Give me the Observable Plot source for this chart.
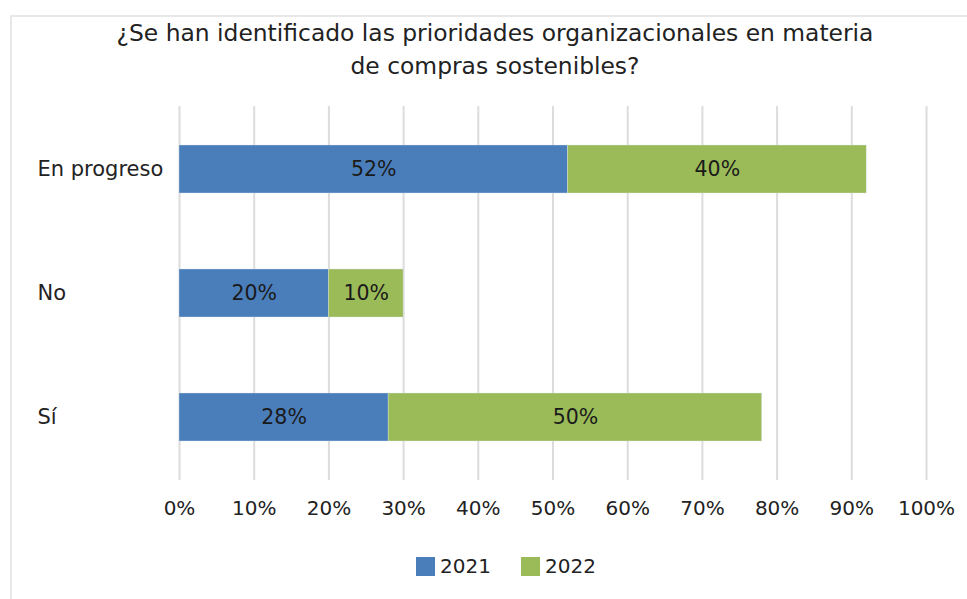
<!DOCTYPE html>
<html>
<head>
<meta charset="utf-8">
<script src="https://cdn.jsdelivr.net/npm/d3@7"></script>
<script src="https://cdn.jsdelivr.net/npm/@observablehq/plot@0.6"></script>
<style>
  html, body { margin: 0; padding: 0; background: #fff; }
  body { width: 967px; height: 599px; overflow: hidden; position: relative; font-family: "DejaVu Sans", sans-serif; color: #222; }
  #frame { position: absolute; left: 10px; top: 15px; width: 1000px; height: 640px; border-left: 2px solid #e8e8e8; border-top: 2px solid #e8e8e8; }
  #title { position: absolute; left: 0; top: 17px; width: 990px; text-align: center; font-size: 23.4px; line-height: 33px; color: #222; }
  #chart { position: absolute; left: 0; top: 90px; }
  #legend { position: absolute; left: 0; top: 555px; width: 967px; height: 22px; }
  .item { position: absolute; top: 0; display: flex; align-items: center; font-size: 20px; height: 22px; }
  .sw { width: 19px; height: 19px; margin-right: 5px; }
</style>
</head>
<body>
<div id="frame"></div>
<div id="title">¿Se han identificado las prioridades organizacionales en materia<br>de compras sostenibles?</div>
<div id="chart"></div>
<div id="legend"></div>
<script>
const categories = ["En progreso", "No", "Sí"];
const series = ["2021", "2022"];
const values2021 = [52, 20, 28];
const values2022 = [40, 10, 50];
const xTicks = [0, 10, 20, 30, 40, 50, 60, 70, 80, 90, 100];
const colors = ["#4a7ebb", "#9bbb59"];

const data = [];
categories.forEach((c, i) => {
  data.push({category: c, series: series[0], value: values2021[i]});
  data.push({category: c, series: series[1], value: values2022[i]});
});

const fmt = d => d + "%";

const chart = Plot.plot({
  width: 967,
  height: 440,
  marginLeft: 179,
  marginRight: 41,
  marginTop: 16,
  marginBottom: 50,
  style: {fontFamily: "'DejaVu Sans', sans-serif", fontSize: "20px", color: "#222", background: "transparent"},
  x: {domain: [0, 100], ticks: xTicks, tickFormat: fmt, label: null},
  y: {domain: categories, paddingInner: 0.615, paddingOuter: 0.3075, axis: null},
  color: {domain: series, range: colors},
  marks: [
    Plot.ruleX(xTicks, {stroke: "#dcdcdc", strokeWidth: 2}),
    Plot.barX(data, Plot.stackX({y: "category", x: "value", fill: "series", z: "series", order: series, stroke: "#dfe8f3", strokeWidth: 0.6, strokeOpacity: 0.6})),
    Plot.text(data, Plot.stackX({y: "category", x: "value", z: "series", order: series, text: d => fmt(d.value), fill: "#1a1a1a", fontSize: 20.5})),
    Plot.axisX({ticks: xTicks, tickFormat: fmt, tickSize: 0, tickPadding: 20, fontSize: 20, fill: "#222", label: null}),
    Plot.text(categories, {y: d => d, frameAnchor: "left", dx: -142, textAnchor: "start", fontSize: 21, fill: "#222"})
  ]
});
document.getElementById("chart").appendChild(chart);

const legend = document.getElementById("legend");
const legendX = [416, 521];
series.forEach((s, i) => {
  const item = document.createElement("div");
  item.className = "item";
  item.style.left = legendX[i] + "px";
  const sw = document.createElement("div");
  sw.className = "sw";
  sw.style.background = colors[i];
  const t = document.createElement("span");
  t.textContent = s;
  item.appendChild(sw);
  item.appendChild(t);
  legend.appendChild(item);
});
</script>
</body>
</html>
